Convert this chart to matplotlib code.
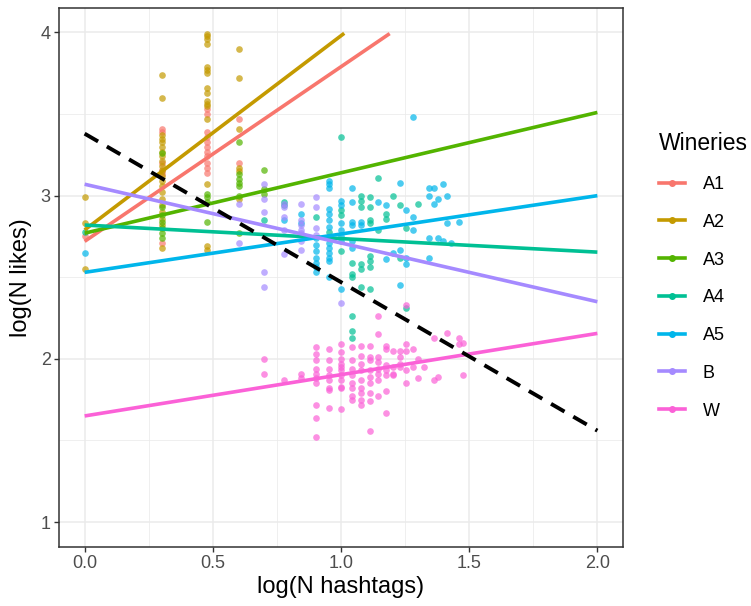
import matplotlib
matplotlib.use("Agg")
import matplotlib.pyplot as plt
from matplotlib.lines import Line2D
import numpy as np

plt.rcParams["font.family"] = ["Liberation Sans", "DejaVu Sans"]

# winery groups and ggplot default hue colours
WINERIES = ["A1", "A2", "A3", "A4", "A5", "B", "W"]
COLORS = ["#F8766D", "#C49A00", "#53B400", "#00C094", "#00B6EB", "#A58AFF", "#FB61D7"]

# points: log(N hashtags) -> list of log(N likes)
A1_POINTS = {
    0.0: [2.75],
    0.301: [3.41, 3.39, 3.20, 3.16, 3.13, 2.71],
    0.477: [3.53, 3.50, 3.39, 3.36, 3.33, 3.30, 3.27, 3.24, 3.20, 3.17, 3.14],
    0.602: [3.47, 3.20],
}
A2_POINTS = {
    0.0: [2.99, 2.83, 2.55],
    0.301: [3.74, 3.60, 3.37, 3.35, 3.33, 3.30, 3.27, 3.24, 3.21, 3.18, 3.15,
            3.12, 3.09, 3.06, 3.02, 2.98, 2.94, 2.90, 2.86, 2.82, 2.68],
    0.477: [3.99, 3.98, 3.96, 3.93, 3.79, 3.77, 3.75, 3.66, 3.63, 3.58, 3.56,
            3.55, 3.47, 3.07, 2.69, 2.67],
    0.602: [3.90, 3.72, 3.41, 3.17, 3.15, 2.98],
}
A3_POINTS = {
    0.301: [3.26, 2.93, 2.88, 2.84, 2.80, 2.77, 2.74],
    0.477: [3.01, 2.99, 2.96, 2.84],
    0.602: [3.33, 3.13, 3.10, 3.08, 3.06, 3.00, 2.77],
    0.699: [3.16, 3.04, 3.01],
}
A4_POINTS = {
    0.0: [2.78],
    0.699: [2.85],
    0.778: [2.96, 2.94],
    0.903: [2.87],
    0.954: [2.78, 2.74],
    1.0: [3.36, 2.91, 2.88, 2.66],
    1.041: [2.59, 2.52, 2.50, 2.26, 2.17, 2.13],
    1.079: [3.00, 2.97, 2.93, 2.58, 2.55, 2.44],
    1.114: [2.99, 2.93, 2.85, 2.83, 2.63, 2.60, 2.56, 2.43],
    1.146: [3.11, 2.79],
    1.176: [2.89, 2.86],
    1.204: [3.00],
    1.230: [2.94, 2.62],
    1.255: [2.80, 2.31],
    1.301: [2.95],
}
A5_POINTS = {
    0.0: [2.65],
    0.778: [2.85],
    0.845: [2.89, 2.83],
    0.903: [2.74, 2.70, 2.66, 2.62, 2.59, 2.56, 2.53],
    0.954: [3.09, 3.07, 3.05, 2.92, 2.89, 2.85, 2.81, 2.71, 2.68, 2.65, 2.62, 2.60, 2.50],
    1.0: [2.97, 2.94, 2.83, 2.79, 2.75, 2.72, 2.43],
    1.041: [3.05, 2.96, 2.84, 2.82, 2.72, 2.68],
    1.079: [2.84, 2.82],
    1.146: [2.96],
    1.176: [2.94, 2.61],
    1.204: [2.65],
    1.230: [3.08, 2.67, 2.45],
    1.255: [2.91, 2.62, 2.58],
    1.279: [3.48, 2.87, 2.79],
    1.342: [3.05, 3.00, 2.74, 2.62],
    1.362: [3.05, 2.95],
    1.380: [2.98, 2.74],
    1.398: [3.07, 2.72],
    1.415: [3.00, 2.83],
    1.431: [2.71],
    1.462: [2.84],
}
B_POINTS = {
    0.602: [2.95, 2.71],
    0.699: [3.07, 2.98, 2.90, 2.53, 2.44],
    0.778: [2.95, 2.93, 2.87, 2.79, 2.64],
    0.845: [2.95, 2.85, 2.82, 2.79, 2.77, 2.72, 2.67],
    0.903: [2.99, 2.93, 2.80, 2.76],
    1.0: [2.34],
}
W_POINTS = {
    0.699: [2.00, 1.91],
    0.778: [1.87],
    0.845: [1.91, 1.88],
    0.903: [2.07, 2.03, 1.99, 1.94, 1.91, 1.88, 1.85, 1.72, 1.64, 1.52],
    0.954: [2.06, 1.99, 1.94, 1.90, 1.87, 1.82, 1.81, 1.70],
    1.0: [2.09, 2.04, 2.00, 1.97, 1.95, 1.93, 1.90, 1.87, 1.83, 1.82, 1.69],
    1.041: [2.07, 1.99, 1.94, 1.90, 1.85, 1.82, 1.77, 1.75],
    1.079: [2.08, 2.02, 1.97, 1.93, 1.87, 1.82, 1.79, 1.75, 1.72],
    1.114: [2.08, 2.01, 1.99, 1.93, 1.89, 1.85, 1.79, 1.74, 1.56],
    1.146: [2.26, 2.15, 2.01, 1.98, 1.94, 1.91, 1.87, 1.77],
    1.176: [2.08, 2.06, 1.96, 1.93, 1.90, 1.80, 1.67],
    1.204: [2.05, 1.95, 1.91, 1.90],
    1.230: [2.05, 2.01, 1.97, 1.95],
    1.255: [2.33, 2.09, 2.05, 1.93, 1.85],
    1.279: [2.06, 1.95],
    1.301: [2.00, 1.88],
    1.322: [1.95],
    1.362: [2.13, 1.87],
    1.380: [1.89],
    1.415: [2.16],
    1.462: [2.13, 2.09],
    1.477: [2.10, 1.90],
}
GROUP_POINTS = [A1_POINTS, A2_POINTS, A3_POINTS, A4_POINTS, A5_POINTS, B_POINTS, W_POINTS]

# linear fits per winery and overall fit
FIT_INTERCEPT = [2.72, 2.79, 2.77, 2.82, 2.53, 3.07, 1.65]
FIT_SLOPE = [1.07, 1.19, 0.37, -0.083, 0.235, -0.36, 0.253]
ALL_INTERCEPT = 3.38
ALL_SLOPE = -0.91

XLIM = (-0.1, 2.1)
YLIM = (0.85, 4.15)

fig = plt.figure(figsize=(7.51, 6.06), dpi=100)
ax = fig.add_axes([59 / 751, 1 - 546.5 / 606, 564 / 751, 538.5 / 606])

for pts, col in zip(GROUP_POINTS, COLORS):
    xs = [x for x, ys in pts.items() for _ in ys]
    ys = [y for ys in pts.values() for y in ys]
    ax.scatter(xs, ys, s=23, color=col, alpha=0.7, linewidths=0, zorder=2)

# fitted lines over full range, dropped above the y limit like ggplot does
xgrid = np.linspace(0, 2, 80)
for a, b, col in zip(FIT_INTERCEPT, FIT_SLOPE, COLORS):
    yfit = a + b * xgrid
    keep = yfit <= 4.0
    ax.plot(xgrid[keep], yfit[keep], color=col, lw=2.6, solid_capstyle="butt", zorder=3)

ax.plot(xgrid, ALL_INTERCEPT + ALL_SLOPE * xgrid, color="black", lw=2.8,
        dashes=(4, 2.6), zorder=4)

ax.set_xlim(*XLIM)
ax.set_ylim(*YLIM)
ax.set_xticks([0, 0.5, 1.0, 1.5, 2.0])
ax.set_xticklabels(["0.0", "0.5", "1.0", "1.5", "2.0"])
ax.set_xticks([0.25, 0.75, 1.25, 1.75], minor=True)
ax.set_yticks([1, 2, 3, 4])
ax.set_yticks([1.5, 2.5, 3.5], minor=True)
ax.grid(which="major", color="#EBEBEB", lw=1.1, zorder=0)
ax.grid(which="minor", color="#EBEBEB", lw=0.55, zorder=0)
ax.set_axisbelow(True)
for sp in ax.spines.values():
    sp.set_color("#333333")
    sp.set_linewidth(1.1)
ax.tick_params(which="major", length=3.5, width=1.0, color="#333333",
               labelcolor="#4D4D4D", labelsize=13, pad=2.5)
ax.tick_params(which="minor", length=0)

ax.set_xlabel("log(N hashtags)", fontsize=17, labelpad=3)
ax.set_ylabel("log(N likes)", fontsize=17, labelpad=6)

handles = [Line2D([], [], color=c, lw=2.6, marker="o", markersize=4) for c in COLORS]
leg = fig.legend(handles, WINERIES, loc="upper left", bbox_to_anchor=(652 / 751, 1 - 125 / 606),
                 frameon=False, title="Wineries", title_fontsize=16.5, fontsize=13,
                 handlelength=1.45, handletextpad=0.95, labelspacing=1.15,
                 alignment="left", borderaxespad=0)

fig.savefig("out.png", dpi=100)
